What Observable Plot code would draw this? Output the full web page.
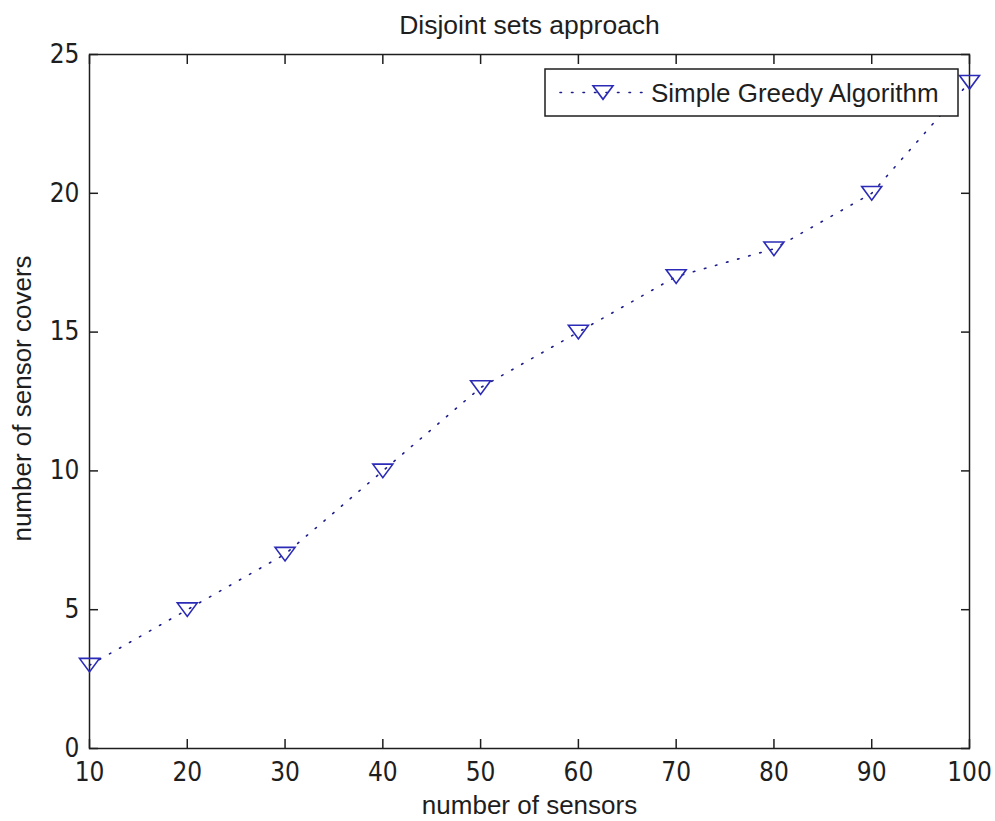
<!DOCTYPE html>
<html>
<head>
<meta charset="utf-8">
<script src="https://cdn.jsdelivr.net/npm/d3@7"></script>
<script src="https://cdn.jsdelivr.net/npm/@observablehq/plot@0.6"></script>
<style>
  html, body { margin: 0; padding: 0; background: #fff; }
  #chart svg { display: block; }
</style>
</head>
<body>
<div id="chart"></div>
<script>
// Number of sensors deployed and the disjoint covers found by the greedy pass
const sensors = [10, 20, 30, 40, 50, 60, 70, 80, 90, 100];
const covers = [3, 5, 7, 10, 13, 15, 17, 18, 20, 24];
const xTicks = [10, 20, 30, 40, 50, 60, 70, 80, 90, 100];
const yTicks = [0, 5, 10, 15, 20, 25];
const seriesName = "Simple Greedy Algorithm";
const titleText = "Disjoint sets approach";
const xLabel = "number of sensors";
const yLabel = "number of sensor covers";

const rows = sensors.map((s, i) => ({sensors: s, covers: covers[i]}));

const W = 995, H = 821;
const M = {left: 89, right: 26, top: 54, bottom: 73};
const ink = "#1e1e1e";
const markerColor = "#2b2bb8";
const lineColor = "#1c1c8a";
const textFont = "'Liberation Sans', Arial, sans-serif";
const tickFont = "'Liberation Sans Narrow', 'Arial Narrow', 'DejaVu Sans Condensed', sans-serif";

// Downward-pointing triangle marker, wider than tall
const triangleDown = {
  draw(ctx, size) {
    const r = Math.sqrt(size / Math.PI);
    const h = r * 0.68;
    ctx.moveTo(-r, -h);
    ctx.lineTo(r, -h);
    ctx.lineTo(0, h);
    ctx.closePath();
  }
};

const dotted = "1.5 10";

const plot = Plot.plot({
  width: W,
  height: H,
  marginLeft: M.left,
  marginRight: M.right,
  marginTop: M.top,
  marginBottom: M.bottom,
  style: {background: "#fff", color: ink},
  x: {domain: [10, 100]},
  y: {domain: [0, 25]},
  marks: [
    // inward tick marks on all four sides
    Plot.axisX({anchor: "bottom", ticks: xTicks, tickSize: -9, text: null, label: null, stroke: ink, strokeWidth: 1.5}),
    Plot.axisX({anchor: "top", ticks: xTicks, tickSize: -9, text: null, label: null, stroke: ink, strokeWidth: 1.5}),
    Plot.axisY({anchor: "left", ticks: yTicks, tickSize: -9, text: null, label: null, stroke: ink, strokeWidth: 1.5}),
    Plot.axisY({anchor: "right", ticks: yTicks, tickSize: -9, text: null, label: null, stroke: ink, strokeWidth: 1.5}),
    // tick labels
    Plot.axisX({anchor: "bottom", ticks: xTicks, tickSize: 0, tickPadding: 14, label: null,
      fontSize: 26, fontFamily: tickFont, fill: ink}),
    Plot.axisY({anchor: "left", ticks: yTicks, tickSize: 0, tickPadding: 10, label: null,
      fontSize: 26, fontFamily: tickFont, fill: ink}),
    Plot.frame({stroke: ink, strokeWidth: 1.5}),
    // series
    Plot.line(rows, {x: "sensors", y: "covers", stroke: lineColor, strokeWidth: 1.6,
      strokeDasharray: dotted, strokeLinecap: "round"}),
    Plot.dot(rows, {x: "sensors", y: "covers", symbol: triangleDown, r: 10,
      stroke: markerColor, strokeWidth: 1.6, fill: "none"}),
    // title and axis labels
    Plot.text([titleText], {frameAnchor: "top", lineAnchor: "bottom", dy: -21,
      fontSize: 26.5, fontFamily: textFont, fill: ink}),
    Plot.text([xLabel], {frameAnchor: "bottom", lineAnchor: "bottom", dy: 65,
      fontSize: 26, fontFamily: textFont, fill: ink}),
    Plot.text([yLabel], {frameAnchor: "left", textAnchor: "middle", lineAnchor: "bottom", rotate: -90, dx: -59, dy: -3,
      fontSize: 26, fontFamily: textFont, fill: ink})
  ]
});

document.getElementById("chart").appendChild(plot);

// Legend box in the upper-right corner of the axes
const svg = d3.select(plot);
const frameRight = W - M.right;
const boxW = 413, boxH = 47;
const bx = frameRight - 11 - boxW, by = M.top + 15;
const lg = svg.append("g").attr("class", "legend");
lg.append("rect")
  .attr("x", bx).attr("y", by).attr("width", boxW).attr("height", boxH)
  .attr("fill", "#fff").attr("stroke", ink).attr("stroke-width", 1.5);
const ly = by + boxH / 2;
lg.append("line")
  .attr("x1", bx + 15).attr("x2", bx + 102).attr("y1", ly).attr("y2", ly)
  .attr("stroke", lineColor).attr("stroke-width", 1.6)
  .attr("stroke-dasharray", dotted).attr("stroke-linecap", "round");
lg.append("path")
  .attr("transform", `translate(${bx + 58},${ly})`)
  .attr("d", d3.symbol().type(triangleDown).size(Math.PI * 100)())
  .attr("fill", "none").attr("stroke", markerColor).attr("stroke-width", 1.6);
lg.append("text")
  .attr("x", bx + 106).attr("y", by + 33)
  .attr("text-anchor", "start")
  .attr("font-family", textFont).attr("font-size", 26).attr("fill", ink)
  .text(seriesName);
</script>
</body>
</html>
